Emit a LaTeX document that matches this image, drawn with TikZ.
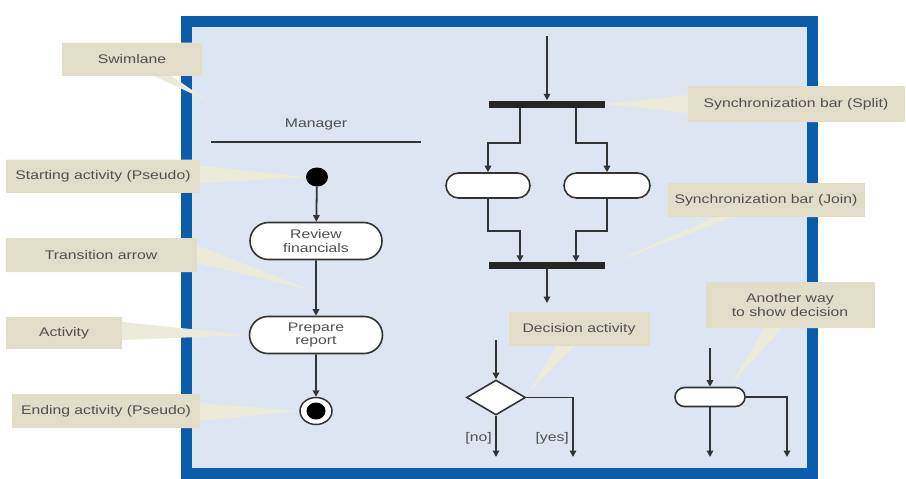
\documentclass[tikz,border=0pt]{standalone}
\usepackage{fontspec}
\setmainfont{Liberation Sans}[FakeStretch=1.26]
\usetikzlibrary{arrows.meta,shapes.misc,shapes.geometric,shapes.callouts}
\definecolor{frameblue}{HTML}{0B5CAB}
\definecolor{lanebg}{HTML}{DCE5F1}
\definecolor{notebg}{HTML}{E2DDC9}
\definecolor{wedgecol}{HTML}{ECEAD9}
\definecolor{ink}{HTML}{333333}
\definecolor{txt}{HTML}{4F4F4F}
\begin{document}
\begin{tikzpicture}[x=1pt,y=-1pt,
  every node/.style={font=\fontsize{12.5}{13.3}\selectfont, text=txt},
  activity/.style={rounded rectangle, draw=ink, line width=1.6pt, fill=white, align=center, inner sep=0pt},
  bar/.style={rectangle, fill=black!85, minimum width=116pt, minimum height=7pt, inner sep=0pt},
  flow/.style={draw=ink, line width=1.8pt, -{Triangle[length=6.5pt,width=6.5pt]}},
  wedge/.style={rectangle callout, fill=wedgecol, callout pointer width=18pt, inner sep=0pt},
  notebox/.style={rectangle, fill=notebg, align=center, inner sep=2pt}]
\useasboundingbox (0,0) rectangle (906,479);
\draw[line width=11pt, draw=frameblue, fill=lanebg] (186,21) rectangle (812,473);

% left swimlane
\node (mgr) at (316,124) {Manager};
\draw[ink, line width=1.8pt] (211,142) -- (421,142);
\node[ellipse, fill=black, minimum width=22pt, minimum height=19pt, inner sep=0pt] (start) at (317,177) {};
\node[activity, minimum width=132pt, minimum height=37pt] (review) at (316,241) {Review\\financials};
\node[activity, minimum width=133pt, minimum height=37pt] (prepare) at (316,335) {Prepare\\report};
\node[ellipse, draw=ink, line width=1.5pt, fill=white, minimum width=32pt, minimum height=27pt, inner sep=0pt] (end) at (316,411) {};
\node[ellipse, fill=black, minimum width=19pt, minimum height=17pt, inner sep=0pt] (endin) at (end) {};
\draw[flow] (start) -- (review);
\draw[flow] (review) -- (prepare);
\draw[flow] (prepare) -- (end);

% split / join
\coordinate (topin) at (547,36);
\node[bar] (split) at (547,104) {};
\node[activity, minimum width=84pt, minimum height=25pt] (ovalL) at (488,185.5) {};
\node[activity, minimum width=86pt, minimum height=25pt] (ovalR) at (607,185.5) {};
\node[bar] (join) at (547,265.5) {};
\coordinate (joinout) at (547,303);
\draw[flow] (topin) -- (split);
\draw[flow] ([xshift=-27pt]split.south) -- ++(0,35) -| (ovalL.north);
\draw[flow] ([xshift=29pt]split.south) -- ++(0,35) -| (ovalR.north);
\draw[flow] (ovalL.south) -- ++(0,32) -| ([xshift=-27pt]join.north);
\draw[flow] (ovalR.south) -- ++(0,32) -| ([xshift=29pt]join.north);
\draw[flow] (join) -- (joinout);

% decision
\coordinate (decin) at (496,340);
\node[diamond, draw=ink, line width=1.6pt, fill=white, minimum width=59pt, minimum height=35pt, inner sep=0pt] (dec) at (496,397.5) {};
\coordinate (noend) at (496,457);
\coordinate (yesend) at (573,457);
\draw[flow] (decin) -- (dec);
\draw[flow] (dec.south) -- node[left, pos=0.55] {[no]} (noend);
\draw[flow] (dec.east) -| node[left, pos=0.84] {[yes]} (yesend);

% another way
\coordinate (smin) at (710,348);
\node[activity, minimum width=70pt, minimum height=19pt] (small) at (710,397) {};
\coordinate (aend) at (710,457);
\coordinate (bend) at (787,457);
\draw[flow] (smin) -- (small);
\draw[flow] (small) -- (aend);
\draw[flow] (small.east) -| (bend);

% callout pointers
\node[wedge, minimum width=140pt, minimum height=33pt, callout absolute pointer={(208,101)}] (swimw) at (132,59) {};
\node[wedge, minimum width=194pt, minimum height=33pt, callout absolute pointer={(start.west)}] (startw) at (103,176) {};
\node[wedge, minimum width=191pt, minimum height=34pt, callout absolute pointer={(310,290)}] (transw) at (101,255) {};
\node[wedge, minimum width=116pt, minimum height=32pt, callout absolute pointer={(prepare.west)}] (actw) at (64,333) {};
\node[wedge, minimum width=188pt, minimum height=34pt, callout absolute pointer={(end.west)}] (endw) at (106,411) {};
\node[wedge, minimum width=217pt, minimum height=36pt, callout absolute pointer={(split.east)}] (splitw) at (796,104) {};
\node[wedge, minimum width=197pt, minimum height=34pt, callout absolute pointer={(join.east)}] (joinw) at (766,200) {};
\node[wedge, minimum width=141pt, minimum height=34pt, callout absolute pointer={(529,392)}] (decw) at (579,329) {};
\node[wedge, minimum width=169pt, minimum height=46pt, callout absolute pointer={(731,385)}] (anotherw) at (790,305) {};

% callout boxes
\node[notebox, minimum width=140pt, minimum height=33pt] (swim) at (132,59) {Swimlane};
\node[notebox, minimum width=194pt, minimum height=33pt] (startc) at (103,176) {Starting activity (Pseudo)};
\node[notebox, minimum width=191pt, minimum height=34pt] (transc) at (101,255) {Transition arrow};
\node[notebox, minimum width=116pt, minimum height=32pt] (actc) at (64,333) {Activity};
\node[notebox, minimum width=188pt, minimum height=34pt] (endc) at (106,411) {Ending activity (Pseudo)};
\node[notebox, minimum width=217pt, minimum height=36pt] (splitc) at (796,104) {Synchronization bar (Split)};
\node[notebox, minimum width=197pt, minimum height=34pt] (joinc) at (766,200) {Synchronization bar (Join)};
\node[notebox, minimum width=141pt, minimum height=34pt] (decc) at (579,329) {Decision activity};
\node[notebox, minimum width=169pt, minimum height=46pt] (anotherc) at (790,305) {Another way\\to show decision};
\end{tikzpicture}
\end{document}
